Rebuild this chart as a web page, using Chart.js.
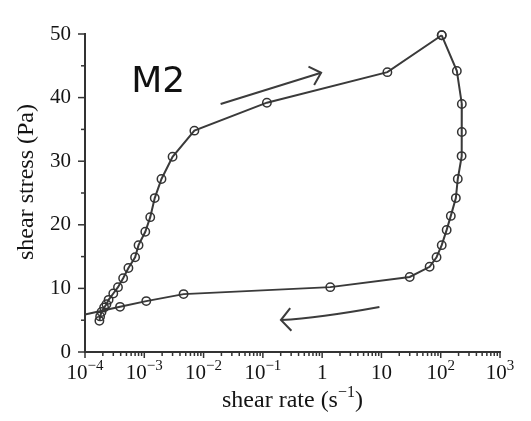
<!DOCTYPE html>
<html>
<head>
<meta charset="utf-8">
<script src="https://cdn.jsdelivr.net/npm/chart.js@4/dist/chart.umd.min.js"></script>
<style>
  html, body { margin: 0; padding: 0; background: #fff; }
  #wrap { width: 531px; height: 421px; }
</style>
</head>
<body>
<div id="wrap"><canvas id="flow-chart"></canvas></div>
<script>
// courbe d'écoulement M2 : montée puis descente
const upRate = [1.75e-4, 1.8e-4, 1.9e-4, 2.1e-4, 2.3e-4, 2.5e-4, 3.0e-4, 3.6e-4, 4.4e-4, 5.4e-4,
                7.0e-4, 8.0e-4, 1.04e-3, 1.26e-3, 1.5e-3, 1.95e-3, 3.0e-3, 7.0e-3, 0.117, 12.6, 104];
const upStress = [4.9, 5.6, 6.3, 7.0, 7.5, 8.2, 9.2, 10.2, 11.6, 13.2,
                  14.9, 16.8, 18.9, 21.2, 24.2, 27.2, 30.7, 34.8, 39.2, 44.0, 49.8];
const downRate = [104, 187, 227, 227, 225, 194, 180, 148, 126, 104, 85, 65, 30, 1.37,
                  4.6e-3, 1.08e-3, 3.9e-4, 1e-4];
const downStress = [49.8, 44.2, 39.0, 34.6, 30.8, 27.2, 24.2, 21.4, 19.2, 16.8, 14.9, 13.4, 11.8, 10.2,
                    9.1, 8.0, 7.1, 5.9];
// étiquettes des décades : [base, exposant]
const decadeLabels = [['10', '−4'], ['10', '−3'], ['10', '−2'], ['10', '−1'], ['1', ''], ['10', ''], ['10', '2'], ['10', '3']];
const yTicks = [0, 5, 10, 15, 20, 25, 30, 35, 40, 45, 50];

const serif = "'Liberation Serif', 'Times New Roman', serif";
const ink = '#141414';

function toPoints(xs, ys) {
    return xs.map(function(x, i) { return { x: x, y: ys[i] }; });
}

function arrowHead(ctx, tx, ty, angle, len, spread) {
    ctx.beginPath();
    ctx.moveTo(tx - len * Math.cos(angle - spread), ty - len * Math.sin(angle - spread));
    ctx.lineTo(tx, ty);
    ctx.lineTo(tx - len * Math.cos(angle + spread), ty - len * Math.sin(angle + spread));
    ctx.stroke();
}

// texte avec exposant, centré sur cx
function supText(ctx, cx, y, base, exp, size, expSize, rise) {
    ctx.font = size + 'px ' + serif;
    const wb = ctx.measureText(base).width;
    ctx.font = expSize + 'px ' + serif;
    const we = exp ? ctx.measureText(exp).width : 0;
    const x0 = cx - (wb + we) / 2;
    ctx.font = size + 'px ' + serif;
    ctx.fillText(base, x0, y);
    if (exp) {
        ctx.font = expSize + 'px ' + serif;
        ctx.fillText(exp, x0 + wb, y - rise);
    }
}

// graduations, étiquettes de l'axe x, titres, flèches + étiquette
const decorations = {
    id: 'decorations',
    afterDraw: function(chart) {
        const ctx = chart.ctx;
        const xs = chart.scales.x, ys = chart.scales.y;
        const area = chart.chartArea;
        ctx.save();
        ctx.strokeStyle = '#333';
        ctx.lineWidth = 1.5;
        xs.ticks.forEach(function(t) {
            const px = xs.getPixelForValue(t.value);
            const len = t.major ? 6 : 4;
            ctx.beginPath();
            ctx.moveTo(px, area.bottom);
            ctx.lineTo(px, area.bottom + len);
            ctx.stroke();
        });
        ys.ticks.forEach(function(t) {
            const py = ys.getPixelForValue(t.value);
            const len = t.value % 10 === 0 ? 7 : 4;
            ctx.beginPath();
            ctx.moveTo(area.left, py);
            ctx.lineTo(area.left - len, py);
            ctx.stroke();
        });

        ctx.fillStyle = ink;
        ctx.textBaseline = 'alphabetic';
        xs.ticks.filter(function(t) { return t.major; }).forEach(function(t) {
            const e = Math.round(Math.log10(t.value));
            const lab = decadeLabels[e + 4];
            supText(ctx, xs.getPixelForValue(t.value), area.bottom + 27, lab[0], lab[1], 21, 15, 9);
        });

        // titres des axes
        ctx.font = '24px ' + serif;
        const wt = ctx.measureText('shear rate (s').width;
        ctx.font = '16px ' + serif;
        const we = ctx.measureText('−1').width;
        ctx.font = '24px ' + serif;
        const wc = ctx.measureText(')').width;
        const tx0 = (area.left + area.right) / 2 - (wt + we + wc) / 2;
        ctx.fillText('shear rate (s', tx0, area.bottom + 55);
        ctx.font = '16px ' + serif;
        ctx.fillText('−1', tx0 + wt, area.bottom + 45);
        ctx.font = '24px ' + serif;
        ctx.fillText(')', tx0 + wt + we, area.bottom + 55);

        ctx.save();
        ctx.translate(33, (area.top + area.bottom) / 2 - 11);
        ctx.rotate(-Math.PI / 2);
        ctx.textAlign = 'center';
        ctx.fillText('shear stress (Pa)', 0, 0);
        ctx.restore();

        // flèche du haut (sens montée)
        ctx.strokeStyle = '#3c3c3c';
        ctx.lineWidth = 2;
        const a1 = { x: xs.getPixelForValue(0.0194), y: ys.getPixelForValue(39.0) };
        const b1 = { x: xs.getPixelForValue(0.96), y: ys.getPixelForValue(43.9) };
        ctx.beginPath();
        ctx.moveTo(a1.x, a1.y);
        ctx.lineTo(b1.x, b1.y);
        ctx.stroke();
        arrowHead(ctx, b1.x, b1.y, Math.atan2(b1.y - a1.y, b1.x - a1.x), 14, 0.75);

        // flèche du bas (sens descente), légèrement courbée
        const a2 = { x: xs.getPixelForValue(9.25), y: ys.getPixelForValue(7.08) };
        const c2 = { x: xs.getPixelForValue(0.89), y: ys.getPixelForValue(5.35) };
        const b2 = { x: xs.getPixelForValue(0.2017), y: ys.getPixelForValue(5.03) };
        ctx.beginPath();
        ctx.moveTo(a2.x, a2.y);
        ctx.quadraticCurveTo(c2.x, c2.y, b2.x, b2.y);
        ctx.stroke();
        arrowHead(ctx, b2.x, b2.y, Math.atan2(b2.y - c2.y, b2.x - c2.x), 15, 0.85);

        ctx.fillStyle = '#111';
        ctx.font = "36px 'DejaVu Sans', sans-serif";
        ctx.fillText('M2', xs.getPixelForValue(6.0e-4), ys.getPixelForValue(40.9));
        ctx.restore();
    }
};

document.addEventListener('DOMContentLoaded', function() {
    const ctx = document.getElementById('flow-chart');
    const pointStyle = {
        showLine: true,
        clip: false,
        borderColor: '#3a3a3a',
        borderWidth: 2,
        pointRadius: 4.2,
        pointBorderWidth: 1.5,
        pointBorderColor: '#333',
        pointBackgroundColor: 'rgba(0,0,0,0)',
        tension: 0
    };
    new Chart(ctx, {
        type: 'scatter',
        data: {
            datasets: [
                Object.assign({ label: 'montée', data: toPoints(upRate, upStress) }, pointStyle),
                Object.assign({ label: 'descente', data: toPoints(downRate, downStress) }, pointStyle, {
                    pointRadius: function(c) { return c.dataIndex === downRate.length - 1 ? 0 : 4.2; }
                })
            ]
        },
        options: {
            responsive: true,
            maintainAspectRatio: false,
            animation: false,
            layout: { padding: { top: 34, right: 31, left: 0, bottom: 0 } },
            plugins: { legend: { display: false }, tooltip: { enabled: false } },
            scales: {
                x: {
                    type: 'logarithmic',
                    min: 1e-4,
                    max: 1e3,
                    afterFit: function(scale) { scale.height = 69; },
                    afterBuildTicks: function(scale) {
                        const ticks = [];
                        for (let e = -4; e <= 3; e++) {
                            for (let m = 1; m <= 9; m++) {
                                if (e === 3 && m > 1) break;
                                ticks.push({ value: m * Math.pow(10, e), major: m === 1 });
                            }
                        }
                        scale.ticks = ticks;
                    },
                    grid: { display: false, drawTicks: false },
                    border: { display: true, color: '#333', width: 2 },
                    ticks: { display: false, autoSkip: false, maxRotation: 0 }
                },
                y: {
                    min: 0,
                    max: 50,
                    afterFit: function(scale) { scale.width = 85; },
                    afterBuildTicks: function(scale) {
                        scale.ticks = yTicks.map(function(v) { return { value: v }; });
                    },
                    grid: { display: false, drawTicks: false },
                    border: { display: true, color: '#333', width: 2 },
                    ticks: {
                        padding: 14,
                        color: ink,
                        font: { family: serif, size: 21 },
                        callback: function(value) { return value % 10 === 0 ? value : ''; }
                    }
                }
            }
        },
        plugins: [decorations]
    });
});
</script>
</body>
</html>
